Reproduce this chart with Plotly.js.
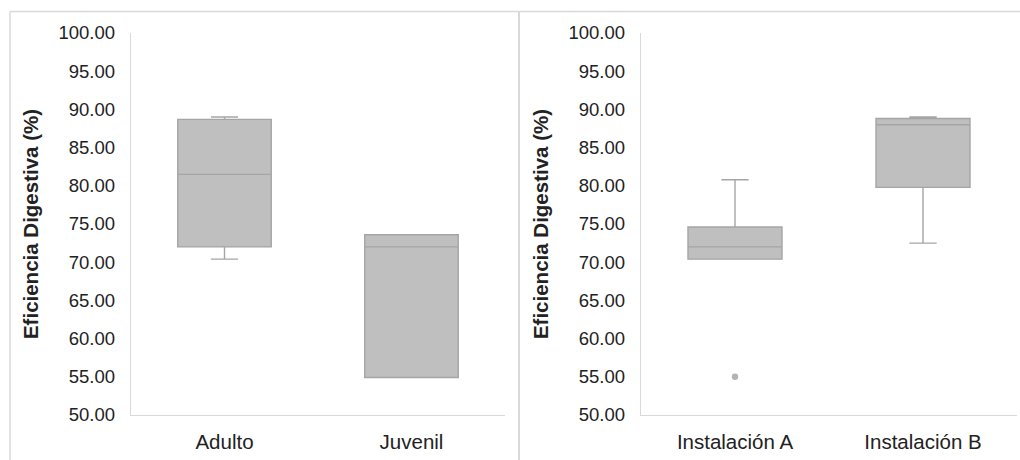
<!DOCTYPE html>
<html>
<head>
<meta charset="utf-8">
<script src="https://cdn.plot.ly/plotly-3.0.1.min.js"></script>
<style>
  html, body { margin: 0; padding: 0; background: #fff; }
  #chart { width: 1020px; height: 460px; }
</style>
</head>
<body>
<div id="chart"></div>
<script>
// Digestive efficiency (%) by life stage
const stageCats = ['Adulto', 'Juvenil'];
const stageLow = [70.4, 54.9];
const stageQ1 = [72.0, 54.9];
const stageMed = [81.5, 72.0];
const stageQ3 = [88.7, 73.6];
const stageHigh = [89.0, 73.6];

// Digestive efficiency (%) by facility
const siteCats = ['Instalación A', 'Instalación B'];
const siteLow = [70.4, 72.5];
const siteQ1 = [70.4, 79.8];
const siteMed = [72.0, 88.0];
const siteQ3 = [74.6, 88.8];
const siteHigh = [80.8, 89.0];
const siteOutX = ['Instalación A'];
const siteOutY = [55.0];

const yTicks = [50, 55, 60, 65, 70, 75, 80, 85, 90, 95, 100];
const yTitle = 'Eficiencia Digestiva (%)';

const W = 1020, H = 460;
const px = v => v / W;
const py = v => 1 - v / H;

const boxStyle = {
  type: 'box',
  fillcolor: '#bfbfbf',
  line: { color: '#a5a5a5', width: 1.4 },
  width: 0.5,
  whiskerwidth: 0.29,
  boxpoints: false,
  hoverinfo: 'skip',
  showlegend: false
};

const traces = [
  Object.assign({}, boxStyle, {
    x: stageCats, q1: stageQ1, median: stageMed, q3: stageQ3,
    lowerfence: stageLow, upperfence: stageHigh,
    xaxis: 'x', yaxis: 'y'
  }),
  Object.assign({}, boxStyle, {
    x: siteCats, q1: siteQ1, median: siteMed, q3: siteQ3,
    lowerfence: siteLow, upperfence: siteHigh,
    xaxis: 'x2', yaxis: 'y2'
  }),
  {
    type: 'scatter', mode: 'markers',
    x: siteOutX, y: siteOutY,
    marker: { color: '#b4b4b4', size: 6.5, line: { width: 0 } },
    xaxis: 'x2', yaxis: 'y2', showlegend: false, hoverinfo: 'skip'
  }
];

const font = { family: 'Liberation Sans, Arial, sans-serif', color: '#222222' };

function yAxis(anchor) {
  return {
    anchor: anchor,
    domain: [py(415), py(33)],
    range: [50, 100],
    tickvals: yTicks,
    ticktext: yTicks.map(v => v.toFixed(2)),
    tickfont: Object.assign({}, font, { size: 18.5 }),
    ticklabelstandoff: 11,
    showgrid: false,
    zeroline: false,
    showline: true,
    linecolor: '#d9d9d9',
    linewidth: 1.3,
    ticks: '',
    title: { text: yTitle, font: Object.assign({}, font, { size: 20.5, weight: 'bold' }), standoff: 14 }
  };
}

function xAxis(anchor, l, r, cats) {
  return {
    anchor: anchor,
    domain: [px(l), px(r)],
    type: 'category',
    categoryorder: 'array',
    categoryarray: cats,
    range: [-0.5, 1.5],
    tickfont: Object.assign({}, font, { size: 20.5 }),
    ticklabelstandoff: 8,
    showgrid: false,
    zeroline: false,
    showline: true,
    linecolor: '#d9d9d9',
    linewidth: 1.3,
    ticks: ''
  };
}

const frame = { type: 'line', xref: 'paper', yref: 'paper', line: { color: '#d9d9d9', width: 1.5 } };

const layout = {
  width: W, height: H,
  margin: { l: 0, r: 0, t: 0, b: 0 },
  paper_bgcolor: '#ffffff',
  plot_bgcolor: '#ffffff',
  font: font,
  showlegend: false,
  xaxis: xAxis('y', 131, 505, stageCats),
  yaxis: yAxis('x'),
  xaxis2: xAxis('y2', 641, 1017, siteCats),
  yaxis2: yAxis('x2'),
  shapes: [
    Object.assign({}, frame, { x0: px(10), x1: 1, y0: py(11.5), y1: py(11.5) }),
    Object.assign({}, frame, { x0: px(10), x1: px(10), y0: py(11.5), y1: 0 }),
    Object.assign({}, frame, { x0: px(519), x1: px(519), y0: py(11.5), y1: 0, line: { color: '#d9d9d9', width: 2 } })
  ]
};

Plotly.newPlot('chart', traces, layout, { staticPlot: true, displayModeBar: false });
</script>
</body>
</html>
